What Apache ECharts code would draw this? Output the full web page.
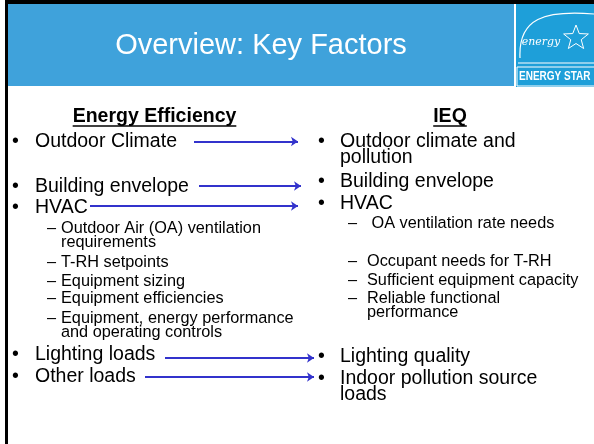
<!DOCTYPE html>
<html>
<head>
<meta charset="utf-8">
<script src="https://cdn.jsdelivr.net/npm/echarts@6/dist/echarts.min.js"></script>
<style>
html, body { margin: 0; padding: 0; background: #fff; }
#chart { width: 594px; height: 444px; }
</style>
</head>
<body>
<div id="chart"></div>
<script>
// Slide content
const titleText = 'Overview: Key Factors';
const leftHeading = 'Energy Efficiency';
const rightHeading = 'IEQ';
const leftLevels = [1, 1, 1, 2, 2, 2, 2, 2, 1, 1];
const leftTexts = [
    'Outdoor Climate',
    'Building envelope',
    'HVAC',
    'Outdoor Air (OA) ventilation\nrequirements',
    'T-RH setpoints',
    'Equipment sizing',
    'Equipment efficiencies',
    'Equipment, energy performance\nand operating controls',
    'Lighting loads',
    'Other loads'
];
const rightLevels = [1, 1, 1, 2, 2, 2, 2, 1, 1];
const rightTexts = [
    'Outdoor climate and\npollution',
    'Building envelope',
    'HVAC',
    ' OA ventilation rate needs',
    'Occupant needs for T-RH',
    'Sufficient equipment capacity',
    'Reliable functional\nperformance',
    'Lighting quality',
    'Indoor pollution source\nloads'
];

// Layout (pixels)
const leftRowY = [142, 187, 208, 229, 263, 282, 299, 319, 355, 377];
const rightRowY = [142, 182, 204, 224, 262, 281, 299, 357, 379];
const arrowStartX = [194, 199, 90, 165, 145];
const arrowEndX = [298, 301, 298, 314, 314];
const arrowY = [141.5, 186, 206, 358, 377];

const FONT = '"Liberation Sans", Arial, sans-serif';
const mainFont = '19.5px ' + FONT;
const subFont = '16.3px ' + FONT;
const headFont = 'bold 19.5px ' + FONT;

function textWidth(str, font) {
    const ctx = document.createElement('canvas').getContext('2d');
    ctx.font = font;
    return ctx.measureText(str).width;
}

const elements = [];

// frame
elements.push({type: 'rect', shape: {x: 5, y: 0, width: 589, height: 4}, style: {fill: '#000'}});
elements.push({type: 'rect', shape: {x: 5, y: 0, width: 3, height: 444}, style: {fill: '#000'}});

// title bar
elements.push({type: 'rect', shape: {x: 8, y: 4, width: 506, height: 82}, style: {fill: '#3FA2DB'}});
elements.push({type: 'text', style: {
    text: titleText, x: 261, y: 46, align: 'center', verticalAlign: 'middle',
    font: '29px ' + FONT, fill: '#fff'
}});

// energy star logo
elements.push({type: 'rect', shape: {x: 516, y: 4, width: 78, height: 83}, style: {fill: '#1E9FD9'}});
elements.push({type: 'bezierCurve', shape: {x1: 520, y1: 58, cpx1: 518, cpy1: 18, cpx2: 545, cpy2: 10, x2: 594, y2: 14},
    style: {stroke: '#fff', lineWidth: 1.2, fill: null}});
elements.push({type: 'line', shape: {x1: 518, y1: 63, x2: 594, y2: 63}, style: {stroke: '#fff', lineWidth: 1.2}});
elements.push({type: 'text', style: {
    text: 'energy', x: 541, y: 42, align: 'center', verticalAlign: 'middle',
    font: 'italic 11px "DejaVu Serif", serif', fill: '#fff'
}});
const starPts = [];
for (let k = 0; k < 10; k++) {
    const r = k % 2 === 0 ? 13 : 5.5;
    const a = -Math.PI / 2 + k * Math.PI / 5;
    starPts.push([576 + r * Math.cos(a), 38 + r * Math.sin(a)]);
}
elements.push({type: 'polygon', shape: {points: starPts}, style: {stroke: '#fff', lineWidth: 1, fill: null}});
elements.push({type: 'rect', shape: {x: 517, y: 67, width: 80, height: 19}, style: {stroke: '#fff', lineWidth: 1, fill: null}});
elements.push({type: 'text', x: 519, y: 77, scaleX: 0.8, style: {
    text: 'ENERGY STAR', x: 0, y: 0, align: 'left', verticalAlign: 'middle',
    font: 'bold 12.5px ' + FONT, fill: '#fff'
}});

// headings
function heading(str, cx) {
    const w = textWidth(str, headFont);
    elements.push({type: 'text', style: {
        text: str, x: cx, y: 117, align: 'center', verticalAlign: 'middle', font: headFont, fill: '#000'
    }});
    elements.push({type: 'line', shape: {x1: cx - w / 2, y1: 126, x2: cx + w / 2, y2: 126},
        style: {stroke: '#000', lineWidth: 1.5}});
}
heading(leftHeading, 154.5);
heading(rightHeading, 450);

// bullet columns
function column(texts, levels, rowY, col) {
    texts.forEach((str, i) => {
        const main = levels[i] === 1;
        const lh = main ? 16 : 14;
        const font = main ? mainFont : subFont;
        elements.push({type: 'text', style: {
            text: main ? '\u2022' : '\u2013', x: main ? col.bulletX : col.dashX, y: rowY[i],
            align: 'left', verticalAlign: 'middle', font: font, fill: '#000'
        }});
        elements.push({type: 'text', style: {
            text: str, x: main ? col.textX : col.subX, y: rowY[i] - lh / 2,
            align: 'left', verticalAlign: 'top', font: font, lineHeight: lh, fill: '#000'
        }});
    });
}
column(leftTexts, leftLevels, leftRowY, {bulletX: 12, textX: 35, dashX: 47, subX: 61});
column(rightTexts, rightLevels, rightRowY, {bulletX: 318, textX: 340, dashX: 348, subX: 367});

const chart = echarts.init(document.getElementById('chart'));
chart.setOption({
    animation: false,
    backgroundColor: '#fff',
    grid: {left: 0, right: 0, top: 0, bottom: 0},
    xAxis: {type: 'value', min: 0, max: 594, show: false},
    yAxis: {type: 'value', min: 0, max: 444, inverse: true, show: false},
    graphic: {elements: elements},
    series: [{
        type: 'lines',
        coordinateSystem: 'cartesian2d',
        silent: true,
        symbol: ['none', 'arrow'],
        symbolSize: 7,
        lineStyle: {color: '#3333CC', width: 2, opacity: 1, curveness: 0},
        data: arrowStartX.map((x, i) => ({coords: [[x, arrowY[i]], [arrowEndX[i], arrowY[i]]]}))
    }]
});
</script>
</body>
</html>
